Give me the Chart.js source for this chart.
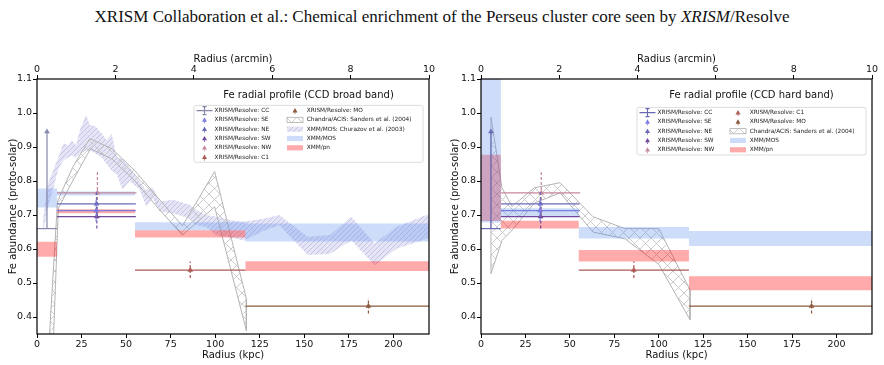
<!DOCTYPE html>
<html>
<head>
<meta charset="utf-8">
<script src="https://cdn.jsdelivr.net/npm/chart.js@4.4.0/dist/chart.umd.min.js"></script>
<style>
body { margin: 0; background: #fff; width: 884px; height: 365px; overflow: hidden; position: relative; }
#title { position: absolute; left: 0; top: 7px; width: 884px; text-align: center; font: 17px "Liberation Serif", "Times New Roman", serif; color: #111; }
canvas { position: absolute; top: 40px; }
#left { left: 0; }
#right { left: 442px; }
</style>
</head>
<body>
<div id="title">XRISM Collaboration et al.: Chemical enrichment of the Perseus cluster core seen by <i>XRISM</i>/Resolve</div>
<canvas id="left" width="442" height="325"></canvas>
<canvas id="right" width="442" height="325"></canvas>
<script>
// axis ticks
const xTicksKpc = [0, 25, 50, 75, 100, 125, 150, 175, 200];
const xTicksArcmin = [0, 2, 4, 6, 8, 10];
const yTicks = [0.4, 0.5, 0.6, 0.7, 0.8, 0.9, 1.0, 1.1];

// XRISM/Resolve regions (same in both bands)
const regions = ['CC', 'SE', 'NE', 'SW', 'NW', 'C1', 'MO'];
const resX = [5.6, 33.2, 33.4, 33.6, 33.9, 86, 186];
const resXLo = [0, 11.2, 11.2, 11.2, 11.2, 55, 117];
const resXHi = [11.2, 55.5, 55.5, 55.5, 55.8, 117, 220];
const resY = [0.66, 0.713, 0.733, 0.695, 0.765, 0.538, 0.432];
const resYLo = [0.66, 0.68, 0.70, 0.66, 0.70, 0.515, 0.41];
const resYHi = [0.945, 0.745, 0.77, 0.725, 0.83, 0.563, 0.455];

// XMM bins
const binEdges = [0, 11.2, 55, 117, 220];
const mosBroadLo = [0.722, 0.757, 0.655, 0.622];
const mosBroadHi = [0.778, 0.769, 0.679, 0.675];
const pnBroadLo = [0.577, 0.705, 0.634, 0.535];
const pnBroadHi = [0.621, 0.717, 0.655, 0.564];
const mosHardLo = [0.678, 0.695, 0.631, 0.609];
const mosHardHi = [1.2, 0.72, 0.665, 0.653];
const pnHardLo = [0.682, 0.66, 0.563, 0.479];
const pnHardHi = [0.877, 0.683, 0.597, 0.52];

// Chandra/ACIS (Sanders et al. 2004)
const chBroadUpX = [6.8, 11.5, 20, 29.6, 42, 55, 68, 81.6, 99.7, 117.5];
const chBroadUp = [0.33, 0.74, 0.84, 0.925, 0.895, 0.83, 0.75, 0.668, 0.828, 0.454];
const chBroadLoX = [9.2, 12, 20, 30, 42, 55, 68, 81.6, 99.7, 117.5];
const chBroadLo = [0.33, 0.72, 0.80, 0.895, 0.865, 0.80, 0.72, 0.641, 0.724, 0.36];
const chHardX = [5.6, 11.8, 17.4, 30, 44.5, 63, 81, 100, 117.6];
const chHardUp = [0.988, 0.78, 0.725, 0.78, 0.795, 0.695, 0.66, 0.66, 0.48];
const chHardLo = [0.527, 0.625, 0.655, 0.735, 0.765, 0.65, 0.63, 0.555, 0.392];

// XMM/MOS (Churazov et al. 2003)
const churX = [3.5, 6, 9, 12, 14.8, 17.6, 19.5, 21.9, 24.1, 27.5, 29.7, 33, 36.3, 39.1, 41.9, 44.7, 48, 52, 57.6, 61.4, 65, 68.8, 76.3, 85.7, 89.4, 95, 100.7, 108, 116, 128, 136, 152, 164.3, 176.4, 189.5, 201.7, 220];
const churUp = [0.69, 0.79, 0.83, 0.87, 0.91, 0.905, 0.92, 0.905, 0.95, 0.995, 0.965, 0.96, 0.94, 0.92, 0.94, 0.87, 0.865, 0.84, 0.80, 0.77, 0.78, 0.74, 0.745, 0.73, 0.715, 0.70, 0.695, 0.685, 0.68, 0.69, 0.70, 0.636, 0.641, 0.695, 0.616, 0.665, 0.703];
const churLo = [0.65, 0.72, 0.775, 0.835, 0.86, 0.87, 0.875, 0.87, 0.88, 0.89, 0.89, 0.88, 0.87, 0.85, 0.83, 0.82, 0.775, 0.80, 0.775, 0.725, 0.75, 0.71, 0.705, 0.69, 0.67, 0.665, 0.64, 0.635, 0.625, 0.655, 0.67, 0.582, 0.585, 0.626, 0.552, 0.601, 0.632];

const broadColors = ['#8686aa', '#7c7ce0', '#6a6ab8', '#70489a', '#c4879a', '#ad5a55', '#8b5a3c'];
const hardColors = ['#6a6ab4', '#7c7ce0', '#6a6ab8', '#70489a', '#c4879a', '#ad5a55', '#8b5a3c'];
const mosFill = 'rgba(100,150,235,0.32)';
const pnFill = 'rgba(255,0,0,0.33)';

Chart.defaults.font.family = '"DejaVu Sans", sans-serif';
Chart.defaults.color = '#111';
Chart.defaults.animation = false;

function hatch(size, bg, fg, dirs, lw) {
    const c = document.createElement('canvas');
    c.width = c.height = size;
    const g = c.getContext('2d');
    if (bg) { g.fillStyle = bg; g.fillRect(0, 0, size, size); }
    g.strokeStyle = fg;
    g.lineWidth = lw;
    g.beginPath();
    for (const k of [-size, 0, size]) {
        if (dirs.includes('/')) { g.moveTo(k, size); g.lineTo(k + size, 0); }
        if (dirs.includes('\\')) { g.moveTo(k, 0); g.lineTo(k + size, size); }
    }
    g.stroke();
    return g.createPattern(c, 'repeat');
}
const chandraHatch = hatch(11, null, '#c6c6c6', '/\\', 0.9);
const churHatch = hatch(5, 'rgba(180,180,230,0.35)', 'rgba(135,135,205,0.45)', '/', 0.8);

function pts(xs, ys) { return xs.map((x, k) => ({ x, y: ys[k] })); }
function steps(vals) { return binEdges.map((x, k) => ({ x, y: vals[Math.min(k, vals.length - 1)] })); }
function polygon(upX, up, loX, lo) {
    const p = pts(upX, up).concat(pts(loX, lo).reverse());
    p.push(p[0]);
    return p;
}

function buildDatasets(p) {
    const ds = [];
    regions.forEach((r, i) => {
        const c = p.colors[i];
        ds.push({ data: [{ x: resXLo[i], y: resY[i] }, { x: resXHi[i], y: resY[i] }], borderColor: c, borderWidth: 1.2, pointRadius: 0, order: 0 });
        ds.push({ data: [{ x: resX[i], y: resYLo[i] }, { x: resX[i], y: resYHi[i] }], borderColor: c, borderWidth: 1.2, borderDash: i === 0 ? [] : [3, 2], pointRadius: 0, order: 0 });
        const my = i === 0 ? resYHi[i] : resY[i];
        ds.push({ data: [{ x: resX[i], y: my }], showLine: false, pointStyle: 'triangle', pointRadius: 2.8, backgroundColor: c, borderColor: c, borderWidth: 0.5, order: 0 });
    });
    const band = (hi, lo, fill) => {
        ds.push({ data: steps(hi), stepped: true, fill: '+1', backgroundColor: fill, borderColor: 'transparent', borderWidth: 0, pointRadius: 0, order: 1 });
        ds.push({ data: steps(lo), stepped: true, fill: false, borderColor: 'transparent', borderWidth: 0, pointRadius: 0, order: 1 });
    };
    band(p.mosHi, p.mosLo, mosFill);
    band(p.pnHi, p.pnLo, pnFill);
    ds.push({ data: p.chandra, fill: 'shape', backgroundColor: chandraHatch, borderColor: '#b4b4b4', borderWidth: 1, pointRadius: 0, order: 2 });
    if (p.churazov) {
        ds.push({ data: polygon(churX, churUp, churX, churLo), fill: 'shape', backgroundColor: churHatch, borderColor: 'transparent', borderWidth: 0, pointRadius: 0, order: 3 });
    }
    return ds;
}

function drawSymbol(ctx, kind, c, sx, cy) {
    ctx.save();
    if (kind === 'err') {
        ctx.strokeStyle = c; ctx.lineWidth = 1.1;
        ctx.beginPath();
        ctx.moveTo(sx - 8, cy); ctx.lineTo(sx + 8, cy);
        ctx.moveTo(sx, cy - 4); ctx.lineTo(sx, cy + 4);
        ctx.moveTo(sx - 2, cy - 4); ctx.lineTo(sx + 2, cy - 4);
        ctx.moveTo(sx - 2, cy + 4); ctx.lineTo(sx + 2, cy + 4);
        ctx.stroke();
    } else if (kind === 'tri') {
        ctx.fillStyle = c; ctx.strokeStyle = c; ctx.lineWidth = 0.8;
        ctx.beginPath();
        ctx.moveTo(sx, cy - 2.6); ctx.lineTo(sx + 2.5, cy + 1.8); ctx.lineTo(sx - 2.5, cy + 1.8);
        ctx.closePath(); ctx.fill();
        ctx.beginPath(); ctx.moveTo(sx, cy + 1.8); ctx.lineTo(sx, cy + 3.5); ctx.stroke();
    } else {
        ctx.fillStyle = c;
        ctx.fillRect(sx - 8, cy - 2.6, 16, 5.2);
        if (kind === 'chandra') { ctx.strokeStyle = '#b0b0b0'; ctx.lineWidth = 0.8; ctx.strokeRect(sx - 8, cy - 2.6, 16, 5.2); }
    }
    ctx.restore();
}

function overlay(p) {
    return {
        id: 'overlay_' + p.id,
        afterDraw(chart) {
            const { ctx, chartArea: a } = chart;
            ctx.save();
            ctx.strokeStyle = '#000';
            ctx.lineWidth = 1.2;
            ctx.strokeRect(a.left, a.top, a.right - a.left, a.bottom - a.top);

            const bw = 229, right = a.right - 6, left = right - bw, top = a.top + p.legendTop;
            const rows = p.legendRows, rh = 9.3;
            const bh = 10.4 + (rows - 1) * rh;
            ctx.font = '10px "DejaVu Sans"';
            ctx.fillStyle = '#111';
            ctx.textAlign = 'center';
            ctx.textBaseline = 'middle';
            ctx.fillText(p.title, left + bw / 2, a.top + 16.4);

            ctx.beginPath();
            ctx.roundRect(left, top, bw, bh, 2);
            ctx.fillStyle = 'rgba(255,255,255,0.8)';
            ctx.fill();
            ctx.strokeStyle = '#d4d4d4';
            ctx.lineWidth = 0.8;
            ctx.stroke();

            ctx.font = '5.8px "DejaVu Sans"';
            ctx.textAlign = 'left';
            p.legend.forEach((it, k) => {
                const col = k < rows ? 0 : 1, row = k % rows;
                const cy = top + 5.2 + row * rh;
                const sx = left + (col ? 101 : 10.5);
                const tx = left + (col ? 112.7 : 20.5);
                drawSymbol(ctx, it[0], it[2], sx, cy);
                ctx.fillStyle = '#222';
                ctx.fillText(it[1], tx, cy);
            });
            ctx.restore();
        }
    };
}

function legendItems(colors, churazov) {
    const items = regions.map((r, i) => [i === 0 ? 'err' : 'tri', 'XRISM/Resolve: ' + r, colors[i]]);
    items.push(['chandra', 'Chandra/ACIS: Sanders et al. (2004)', chandraHatch]);
    if (churazov) items.push(['patch', 'XMM/MOS: Churazov et al. (2003)', churHatch]);
    items.push(['patch', 'XMM/MOS', mosFill]);
    items.push(['patch', 'XMM/pn', pnFill]);
    return items;
}

const panels = [
    { id: 'left', title: 'Fe radial profile (CCD broad band)', colors: broadColors, yAxisW: 37, padRight: 13,
      mosLo: mosBroadLo, mosHi: mosBroadHi, pnLo: pnBroadLo, pnHi: pnBroadHi,
      chandra: polygon(chBroadUpX, chBroadUp, chBroadLoX, chBroadLo), churazov: true,
      legendRows: 6, legendTop: 26.4 },
    { id: 'right', title: 'Fe radial profile (CCD hard band)', colors: hardColors, yAxisW: 39, padRight: 12,
      mosLo: mosHardLo, mosHi: mosHardHi, pnLo: pnHardLo, pnHi: pnHardHi,
      chandra: polygon(chHardX, chHardUp, chHardX, chHardLo), churazov: false,
      legendRows: 5, legendTop: 28.4 }
];

panels.forEach(p => {
    p.legend = legendItems(p.colors, p.churazov);
    const tickFont = { size: 9.5 };
    const titleFont = { size: 10 };
    const grid = { drawOnChartArea: false, tickLength: 4, color: '#000', tickWidth: 1 };
    new Chart(document.getElementById(p.id), {
        type: 'line',
        data: { datasets: buildDatasets(p) },
        options: {
            responsive: false,
            animation: false,
            layout: { padding: { left: 0, right: p.padRight, top: 0, bottom: 0 } },
            plugins: { legend: { display: false }, tooltip: { enabled: false } },
            scales: {
                x: {
                    type: 'linear', position: 'bottom', min: 0, max: 220,
                    afterBuildTicks: s => { s.ticks = xTicksKpc.map(v => ({ value: v })); },
                    afterFit: s => { s.height = 31; },
                    ticks: { autoSkip: false, maxRotation: 0, padding: 1, font: tickFont, color: '#111' },
                    grid: grid, border: { display: false },
                    title: { display: true, text: 'Radius (kpc)', font: titleFont, color: '#111', padding: { top: 0, bottom: 4 } }
                },
                x2: {
                    type: 'linear', position: 'top', min: 0, max: 10,
                    afterBuildTicks: s => { s.ticks = xTicksArcmin.map(v => ({ value: v })); },
                    afterFit: s => { s.height = 39; },
                    ticks: { autoSkip: false, maxRotation: 0, padding: 0, font: tickFont, color: '#111' },
                    grid: grid, border: { display: false },
                    title: { display: true, text: 'Radius (arcmin)', font: titleFont, color: '#111', padding: { top: 13, bottom: 0 } }
                },
                y: {
                    type: 'linear', position: 'left', min: 0.35, max: 1.1,
                    afterBuildTicks: s => { s.ticks = yTicks.map(v => ({ value: v })); },
                    afterFit: s => { s.width = p.yAxisW; },
                    ticks: { autoSkip: false, padding: 1, font: tickFont, color: '#111', callback: v => v.toFixed(1) },
                    grid: grid, border: { display: false },
                    title: { display: true, text: 'Fe abundance (proto-solar)', font: titleFont, color: '#111', padding: { top: 7, bottom: 0 } }
                }
            }
        },
        plugins: [overlay(p)]
    });
});
</script>
</body>
</html>
